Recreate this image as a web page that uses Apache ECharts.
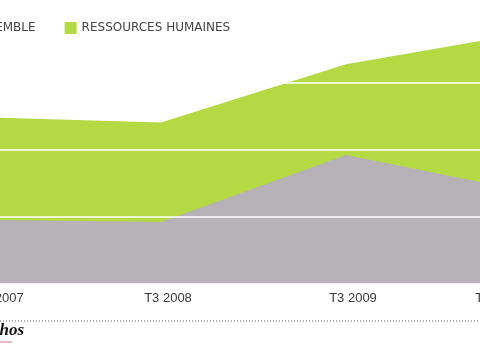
<!DOCTYPE html>
<html><head><meta charset="utf-8">
<script src="https://cdn.jsdelivr.net/npm/echarts@6/dist/echarts.min.js"></script>
<style>html,body{margin:0;padding:0;background:#fff}#c{width:480px;height:360px}</style>
</head><body><div id="c"></div>
<script>
var categories = ['T3 2007', 'T3 2008', 'T3 2009', 'T3 2010'];
var ensemble = [9.6, 9.25, 19.25, 13.7];
var ressourcesHumaines = [24.9, 24.1, 32.8, 37.6];
var legendNames = ['ENSEMBLE', 'RESSOURCES HUMAINES'];

var chart = echarts.init(document.getElementById('c'));
chart.setOption({
  backgroundColor: '#ffffff',
  animation: false,
  legend: {
    data: legendNames,
    left: -46, top: 22, padding: 0,
    icon: 'rect', itemWidth: 12, itemHeight: 12, itemGap: 29,
    textStyle: { fontFamily: 'DejaVu Sans', fontSize: 12, color: '#444' }
  },
  grid: { left: -24, right: -51, top: 16, bottom: 76, outerBoundsMode: 'none', containLabel: false },
  xAxis: {
    type: 'category', data: categories, boundaryGap: false,
    axisLine: { show: false }, axisTick: { show: false }, splitLine: { show: false },
    axisLabel: {
      interval: 0, margin: 8, color: '#3a3a3a',
      fontFamily: 'Liberation Sans', fontSize: 13,
      alignMinLabel: 'left', alignMaxLabel: 'right', hideOverlap: false,
      formatter: function (v, i) {
        var last = categories.length - 1;
        return i === 0 ? '{a|' + v + '}' : (i === last ? '{d|' + v + '}' : '{m|' + v + '}');
      },
      rich: {
        a: { fontFamily: 'Liberation Sans', fontSize: 13, color: '#3a3a3a' },
        m: { fontFamily: 'Liberation Sans', fontSize: 13, color: '#3a3a3a', padding: [0, 0, 0, 14] },
        d: { fontFamily: 'Liberation Sans', fontSize: 13, color: '#3a3a3a', padding: [0, 8, 0, 0] }
      }
    }
  },
  yAxis: {
    type: 'value', min: 0, max: 40, interval: 10, z: 5,
    axisLine: { show: false }, axisTick: { show: false }, axisLabel: { show: false },
    splitLine: { show: true, lineStyle: { color: 'rgba(255,255,255,0.75)', width: 2 } }
  },
  series: [
    { name: legendNames[1], type: 'line', data: ressourcesHumaines, symbol: 'none',
      lineStyle: { width: 0 }, itemStyle: { color: '#b4d943' },
      areaStyle: { color: '#b4d943', opacity: 1 } },
    { name: legendNames[0], type: 'line', data: ensemble, symbol: 'none',
      lineStyle: { width: 0 }, itemStyle: { color: '#b7b1b8' },
      areaStyle: { color: '#b7b1b8', opacity: 1 } }
  ],
  graphic: [
    { type: 'line', shape: { x1: 0, y1: 321, x2: 480, y2: 321 },
      style: { stroke: '#555', lineWidth: 1, lineDash: [1, 2] } },
    { type: 'text', x: 24, y: 339,
      style: { text: 'Les Echos', textAlign: 'right', textVerticalAlign: 'bottom',
        font: 'italic bold 17px "Liberation Serif"', fill: '#111' } },
    { type: 'line', shape: { x1: 0, y1: 342, x2: 12, y2: 342 },
      style: { stroke: '#e07080', lineWidth: 1 } }
  ]
});
</script></body></html>
